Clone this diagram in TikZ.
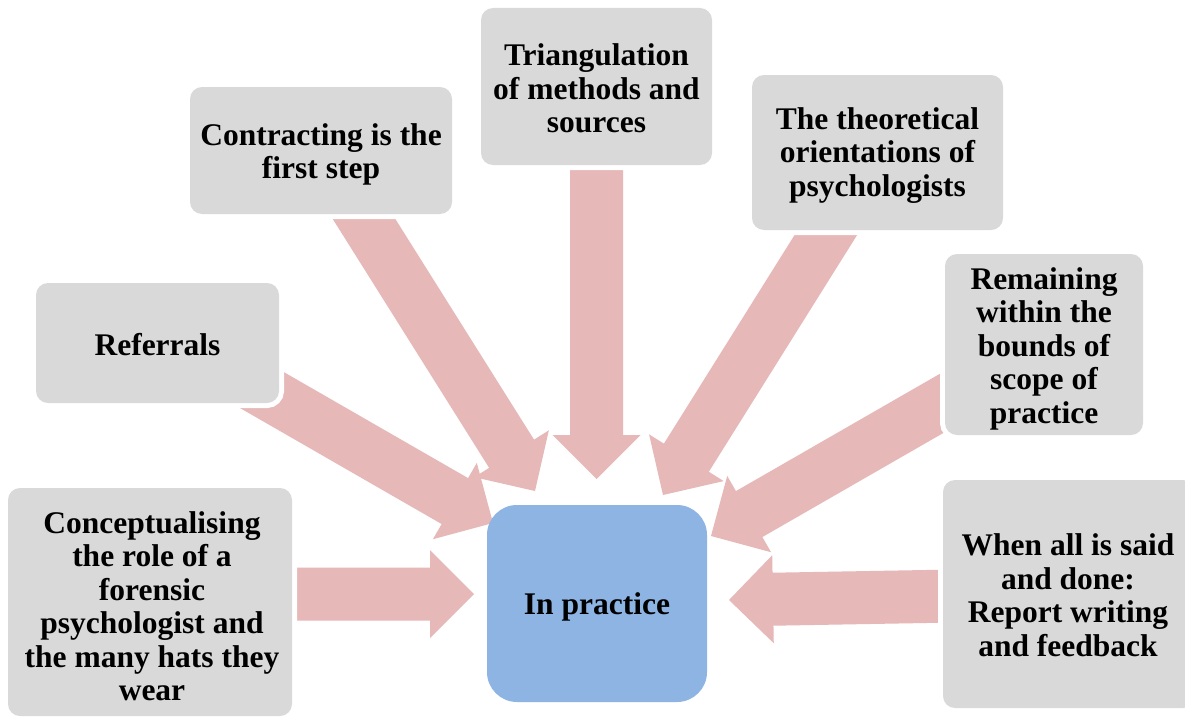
\documentclass[tikz,border=0pt]{standalone}
\usepackage{fontspec}
\setmainfont{Liberation Serif}
\usetikzlibrary{calc}
\definecolor{boxgray}{HTML}{D9D9D9}
\definecolor{arrowpink}{HTML}{E6B8B7}
\definecolor{hubblue}{HTML}{8EB4E3}
\pgfdeclarelayer{back}
\pgfdeclarelayer{arrows}
\pgfsetlayers{back,arrows,main}

% block arrow from a tail point #1 to a tip point #2
\newcommand{\blockarrow}[2]{%
  \coordinate (hb) at ($(#2)!44pt!(#1)$);
  \fill[arrowpink]
    ($(#1)!26.5pt!90:(#2)$) -- ($(hb)!26.5pt!90:(#2)$) -- ($(hb)!44pt!90:(#2)$)
    -- (#2)
    -- ($(hb)!44pt!-90:(#2)$) -- ($(hb)!26.5pt!-90:(#2)$) -- ($(#1)!26.5pt!-90:(#2)$)
    -- cycle;
}

\begin{document}
\begin{tikzpicture}[x=1pt,y=-1pt,
  txt/.style={font=\bfseries\fontsize{31.5}{33.5}\selectfont, align=center, inner sep=0pt},
  box/.style={fill=boxgray, rounded corners=12pt, inner sep=0pt,
    preaction={draw=white, line width=10pt}},
  hub/.style={fill=hubblue, rounded corners=30pt, inner sep=0pt}]
\useasboundingbox (0,0) rectangle (1185,717);
\begin{pgfonlayer}{back}
  \fill[white] (0,0) rectangle (1185,717);
\end{pgfonlayer}

% topic boxes
\node[box, minimum width=231pt, minimum height=157pt] (tri) at (596.5,86.5) {};
\node[box, minimum width=262pt, minimum height=127pt] (con) at (321,150.5) {};
\node[box, minimum width=251pt, minimum height=155pt] (the) at (877.5,152.5) {};
\node[box, minimum width=243pt, minimum height=120pt] (ref) at (157.5,343) {};
\node[box, minimum width=198pt, minimum height=181pt] (rem) at (1044,344.5) {};
\node[box, minimum width=284pt, minimum height=228pt] (concep) at (150,602) {};
\node[box, minimum width=252pt, minimum height=228pt] (when) at (1069,594) {};

% central box
\node[hub, minimum width=220pt, minimum height=197pt] (prac) at (597,603.5) {};

% box texts
\node[txt] (triText) at ($(tri)+(0,2)$) {Triangulation\\of methods and\\sources};
\node[txt] (conText) at ($(con)+(0,4)$) {Contracting is the\\first step};
\node[txt] (theText) at ($(the)+(0,3)$) {The theoretical\\orientations of\\psychologists};
\node[txt] (refText) at ($(ref)+(0,2)$) {Referrals};
\node[txt] (remText) at ($(rem)+(0,4)$) {Remaining\\within the\\bounds of\\scope of\\practice};
\node[txt] (concepText) at ($(concep)+(2,4)$) {Conceptualising\\the role of a\\forensic\\psychologist and\\the many hats they\\wear};
\node[txt] (whenText) at ($(when)+(-1,1)$) {When all is said\\and done:\\Report writing\\and feedback};
\node[txt] (pracText) at ($(prac)+(0,3)$) {In practice};

% arrow tails and tips
\coordinate (refTail) at ($(ref.center)+(0,-13)$);
\coordinate (concepTail) at ($(concep.center)+(0,-8)$);
\coordinate (whenTail) at ($(when.center)+(-2,0)$);
\coordinate (triTip) at (596.5,479);
\coordinate (conTip) at (535,491);
\coordinate (theTip) at (663,495);
\coordinate (refTip) at (493,523);
\coordinate (remTip) at (711,536);
\coordinate (concepTip) at (474,594);
\coordinate (whenTip) at (729,600);

\begin{pgfonlayer}{arrows}
  \blockarrow{tri.center}{triTip}
  \blockarrow{con.center}{conTip}
  \blockarrow{the.center}{theTip}
  \blockarrow{refTail}{refTip}
  \blockarrow{rem.center}{remTip}
  \blockarrow{concepTail}{concepTip}
  \blockarrow{whenTail}{whenTip}
\end{pgfonlayer}
\end{tikzpicture}
\end{document}
